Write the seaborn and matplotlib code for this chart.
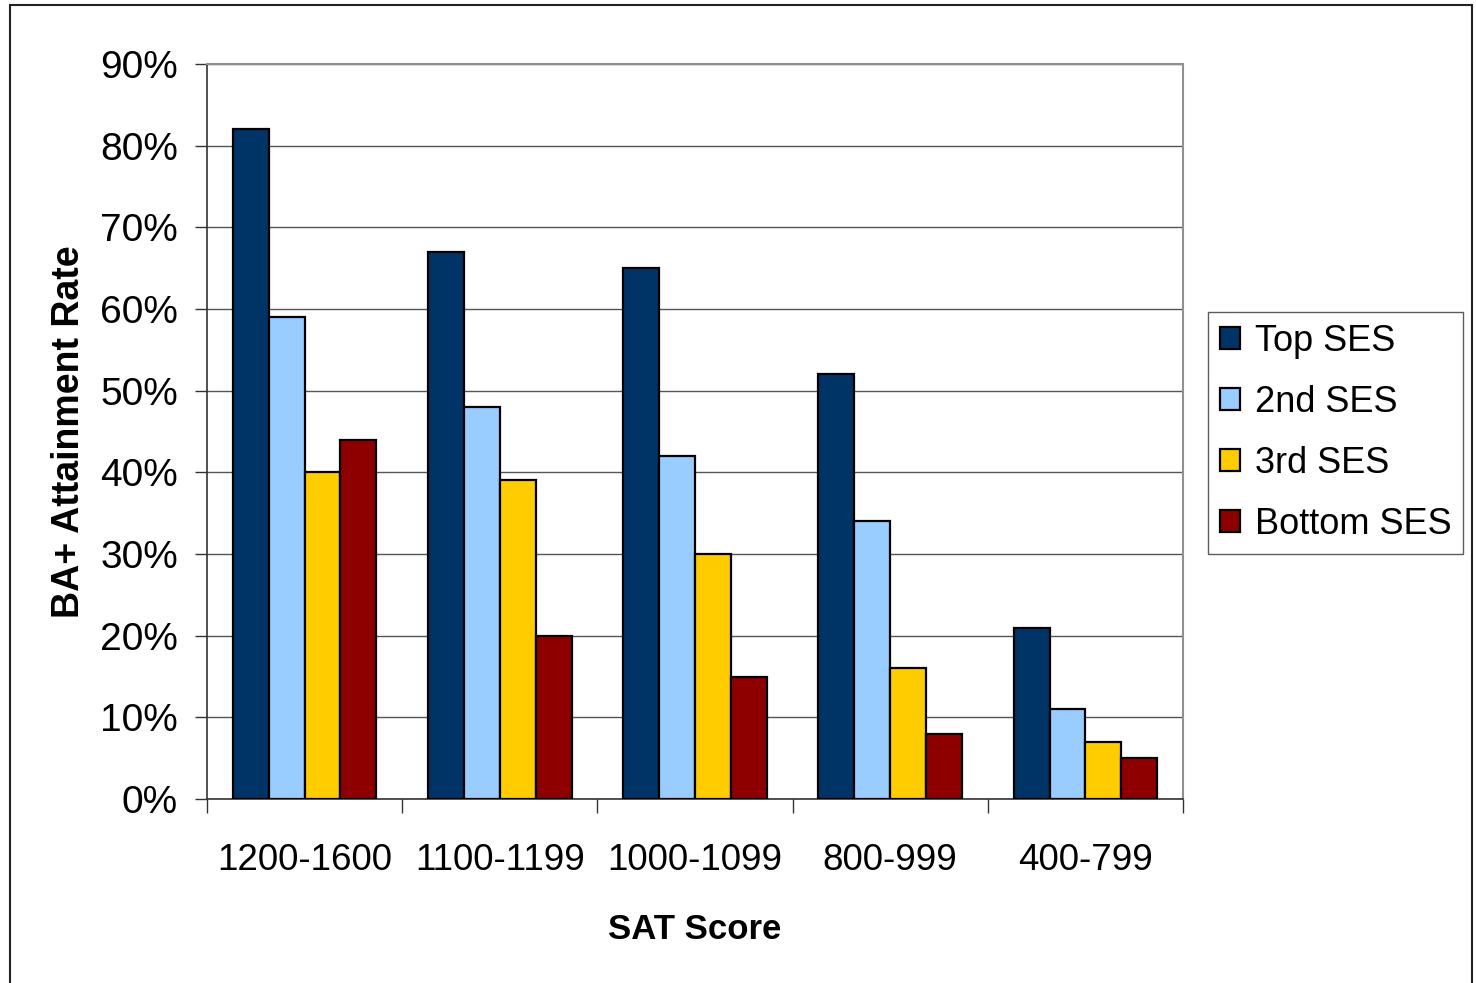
import matplotlib
matplotlib.use("Agg")
import matplotlib.pyplot as plt
import seaborn as sns
import pandas as pd
from matplotlib.ticker import FixedLocator, PercentFormatter
from matplotlib.patches import Rectangle

# данные
sat_groups = ['1200-1600', '1100-1199', '1000-1099', '800-999', '400-799']
ses_levels = ['Top SES', '2nd SES', '3rd SES', 'Bottom SES']
top_ses = [82, 67, 65, 52, 21]
second_ses = [59, 48, 42, 34, 11]
third_ses = [40, 39, 30, 16, 7]
bottom_ses = [44, 20, 15, 8, 5]
colors = ['#003366', '#99CCFF', '#FFCC00', '#8E0000']

rows = []
for ses, vals in zip(ses_levels, [top_ses, second_ses, third_ses, bottom_ses]):
    for g, v in zip(sat_groups, vals):
        rows.append({'sat': g, 'ses': ses, 'rate': v})
df = pd.DataFrame(rows)

sns.set_style('white')
plt.rcParams['font.family'] = ['Liberation Sans', 'DejaVu Sans']
plt.rcParams['text.color'] = 'black'
plt.rcParams['axes.labelcolor'] = 'black'
plt.rcParams['xtick.labelcolor'] = 'black'
plt.rcParams['ytick.labelcolor'] = 'black'

fig = plt.figure(figsize=(14.76, 9.83), dpi=100)
ax = fig.add_axes([207 / 1476, 1 - 799 / 983, (1183 - 207) / 1476, (799 - 64) / 983])

sns.barplot(data=df, x='sat', y='rate', hue='ses', order=sat_groups,
            hue_order=ses_levels, palette=colors, width=0.735,
            edgecolor='black', linewidth=1.6, saturation=1, ax=ax, zorder=3)

ax.set_ylim(0, 90)
ax.set_xlim(-0.5, len(sat_groups) - 0.5)
ax.set_yticks(range(0, 91, 10))
ax.yaxis.set_major_formatter(PercentFormatter(decimals=0))
ax.grid(axis='y', color='#555555', linewidth=1.0, zorder=0)
ax.set_axisbelow(True)

ax.tick_params(axis='y', labelsize=28, length=9, width=1, color='#333333',
               direction='out', left=True, pad=12)
ax.tick_params(axis='x', which='major', labelsize=26.5, length=0, pad=32)
ax.xaxis.set_minor_locator(FixedLocator([i - 0.5 for i in range(len(sat_groups) + 1)]))
ax.tick_params(axis='x', which='minor', length=10, width=1, color='#333333',
               direction='out', bottom=True)

for side in ['left', 'bottom']:
    ax.spines[side].set_color('#333333')
    ax.spines[side].set_linewidth(1.2)
for side in ['top', 'right']:
    ax.spines[side].set_visible(True)
    ax.spines[side].set_color('#909090')
    ax.spines[side].set_linewidth(1.5)

ax.set_xlabel('SAT Score', fontsize=25, fontweight='bold', labelpad=25)
ax.set_ylabel('BA+ Attainment Rate', fontsize=27, fontweight='bold', labelpad=9)

leg = ax.legend(loc='center left', bbox_to_anchor=(1208 / 1476, 1 - 433 / 983),
                bbox_transform=fig.transFigure, fontsize=26, frameon=True,
                fancybox=False, edgecolor='#333333', handlelength=0.55,
                handleheight=0.55, handletextpad=0.42, labelspacing=0.72,
                borderpad=0.33, borderaxespad=0)
leg.get_frame().set_linewidth(1.0)

# рамка вокруг всей картинки
fig.patches.append(Rectangle((10 / 1476, -0.01), (1472 - 10) / 1476, 1.01 - 5 / 983,
                             transform=fig.transFigure, fill=False,
                             edgecolor='#222222', linewidth=1.5))

fig.savefig('out.png', dpi=100)
